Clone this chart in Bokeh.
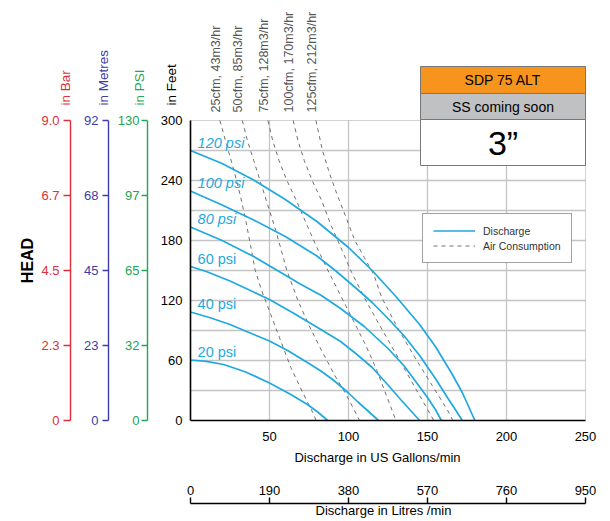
from bokeh.plotting import figure
from bokeh.models import (Range1d, LinearAxis, FixedTicker, Label, BoxAnnotation,
                          Legend, LegendItem, ColumnDataSource, Grid)
from bokeh.embed import file_html
from bokeh.resources import INLINE
from bokeh.core.properties import value

FONT = "Liberation Sans"
BLUE = "#1ea9e1"
AIR_GREY = "#707070"
RED = "#dd2e3a"
INDIGO = "#3d3da8"
GREEN = "#21a653"

# ---- discharge curves: flow (US gpm) vs head (ft) at each air pressure ----
psi_names = ["20 psi", "40 psi", "60 psi", "80 psi", "100 psi", "120 psi"]
psi_italic = [False, False, False, True, True, True]

flow_20 = [0, 10, 21, 35, 50, 63.5, 74, 80.5, 86.8]
head_20 = [60.5, 59.2, 56, 48.5, 37.5, 26, 16, 8.5, 0]

flow_40 = [0, 12, 25, 37, 50, 62, 74, 82, 90, 100, 106, 112, 119]
head_40 = [108.5, 103, 96, 88, 79.5, 69.5, 58, 50, 41, 27.5, 18.5, 10, 0]

flow_60 = [0, 10, 25, 50, 65, 82, 95, 105, 115, 125, 133, 139, 145]
head_60 = [154, 149, 139.5, 121, 107.5, 91.5, 79, 66.5, 53, 35.5, 21, 10.5, 0]

flow_80 = [0, 20, 40, 55, 70, 82.3, 95, 110, 125, 135, 143, 150, 155, 158.8]
head_80 = [193.5, 180, 164, 150, 136, 125.5, 112, 94, 72, 55, 38, 23, 11, 0]

flow_100 = [0, 20, 40, 60, 80, 92, 105, 115, 125, 135, 145, 155, 163, 168, 172]
head_100 = [229.5, 215.5, 200.5, 184, 164.5, 149.5, 132, 118, 102, 85, 65, 42, 22, 10, 0]

flow_120 = [0, 20, 40, 60, 80, 100, 115, 130, 145, 155, 165, 172, 176, 180]
head_120 = [270, 257, 240.5, 221, 199, 173, 150, 124, 96, 74, 48, 28, 14, 0]

discharge_flows = [flow_20, flow_40, flow_60, flow_80, flow_100, flow_120]
discharge_heads = [head_20, head_40, head_60, head_80, head_100, head_120]

# ---- air consumption lines ----
air_names = ["25cfm, 43m3/hr", "50cfm, 85m3/hr", "75cfm, 128m3/hr",
             "100cfm, 170m3/hr", "125cfm, 212m3/hr"]

air_flow_25 = [18.6, 23, 27.5, 31.5, 35, 38, 41, 45, 50.8, 57, 63.5, 71, 78, 79.5]
air_head_25 = [300, 275, 250, 225, 200, 175, 150, 130, 106, 80, 53, 28, 6, 0]

air_flow_50 = [32.8, 36, 40, 44, 49, 54, 61, 68, 75, 82, 91, 98.5, 107]
air_head_50 = [300, 280, 260, 240, 215, 190, 150, 120, 95, 73, 46, 26, 0]

air_flow_75 = [49, 52, 56, 61, 67, 73, 80, 87, 95, 103, 111, 118, 124, 130]
air_head_75 = [300, 280, 260, 240, 220, 198, 173, 150, 125, 100, 75, 50, 25, 0]

air_flow_100 = [65, 68, 72, 77, 83, 89, 96, 102, 110, 118, 127, 136, 145, 154]
air_head_100 = [300, 280, 260, 240, 220, 195, 170, 148, 123, 100, 75, 50, 25, 0]

air_flow_125 = [79.4, 83.5, 88, 93, 98, 104, 110, 116, 121, 131, 142, 153, 163, 166]
air_head_125 = [300, 270, 247, 225, 205, 180, 163, 146, 123, 93, 63, 35, 9.5, 0]

air_flows = [air_flow_25, air_flow_50, air_flow_75, air_flow_100, air_flow_125]
air_heads = [air_head_25, air_head_50, air_head_75, air_head_100, air_head_125]

# ---- scales and tick labels ----
feet_ticks = [0, 60, 120, 180, 240, 300]
feet_grid = [30, 60, 90, 120, 150, 180, 210, 240, 270]
gpm_grid = [50, 100, 150, 200]
gpm_ticks = [50, 100, 150, 200, 250]
litre_ticks = [0, 190, 380, 570, 760, 950]
bar_labels = ["0", "2.3", "4.5", "6.7", "9.0"]
metre_labels = ["0", "23", "45", "68", "92"]
psi_labels = ["0", "32", "65", "97", "130"]
GPM_MAX, FEET_MAX = 250, 300
bar_max, metre_max, psi_max = 9.0, 92.0, 130.0
LITRES_PER_GPM = 3.8

# ---- page geometry (pixels) ----
W, H = 610, 521
AREA_L, AREA_R, AREA_T, AREA_B = 190, 585, 120, 420
px_per_gpm = (AREA_R - AREA_L) / GPM_MAX
px_per_ft = (AREA_B - AREA_T) / FEET_MAX

def gx(px):
    """canvas x pixel -> gallons/min"""
    return (px - AREA_L) / px_per_gpm

def fy(py):
    """canvas y pixel -> feet of head"""
    return (AREA_B - py) / px_per_ft

x_lo, x_hi = gx(0), gx(W)
y_lo, y_hi = fy(H), fy(0)

p = figure(width=W, height=H, x_range=Range1d(x_lo, x_hi), y_range=Range1d(y_lo, y_hi),
           x_axis_type=None, y_axis_type=None,
           output_backend="svg", toolbar_location=None,
           min_border=0, min_border_left=0, min_border_right=0,
           min_border_top=0, min_border_bottom=0)
p.background_fill_color = "white"
p.border_fill_color = "white"
p.outline_line_color = None

p.extra_y_ranges = {
    "psi": Range1d(y_lo * psi_max / FEET_MAX, y_hi * psi_max / FEET_MAX),
    "metres": Range1d(y_lo * metre_max / FEET_MAX, y_hi * metre_max / FEET_MAX),
    "bar": Range1d(y_lo * bar_max / FEET_MAX, y_hi * bar_max / FEET_MAX),
}
p.extra_x_ranges = {"litres": Range1d(x_lo * LITRES_PER_GPM, x_hi * LITRES_PER_GPM)}

# grid limited to the chart area
p.add_layout(Grid(dimension=0, ticker=FixedTicker(ticks=gpm_grid), cross_bounds=(0, FEET_MAX),
                  grid_line_color="#c4c4c4", grid_line_width=1.3))
p.add_layout(Grid(dimension=1, ticker=FixedTicker(ticks=feet_grid), cross_bounds=(0, GPM_MAX),
                  grid_line_color="#c4c4c4", grid_line_width=1.3))

# chart area border
p.add_layout(BoxAnnotation(left=0, right=GPM_MAX, bottom=0, top=FEET_MAX, fill_alpha=0,
                           line_color="#6a6a6a", line_width=1, level="underlay"))

def style_axis(ax, color, tick_out, standoff, width=1.4):
    ax.major_label_text_font = FONT
    ax.major_label_text_font_size = "13px"
    ax.major_label_text_color = color
    ax.axis_line_color = color
    ax.axis_line_width = width
    ax.major_tick_line_color = color
    ax.major_tick_line_width = width
    ax.minor_tick_line_color = None
    ax.major_tick_out = tick_out
    ax.major_tick_in = 0
    ax.major_label_standoff = standoff

# head in feet, on the chart's left edge
feet_axis = LinearAxis(fixed_location=0, bounds=(0, FEET_MAX), ticker=FixedTicker(ticks=feet_ticks))
style_axis(feet_axis, "black", 0, 8, width=1.6)
p.add_layout(feet_axis, "left")

# equivalent head scales
def side_axis(name, labels, vmax, color, line_px, tick_out, standoff):
    ticks = [vmax * i / 4 for i in range(5)]
    ax = LinearAxis(y_range_name=name, fixed_location=gx(line_px), bounds=(0, vmax),
                    ticker=FixedTicker(ticks=ticks),
                    major_label_overrides={t: s for t, s in zip(ticks, labels)})
    style_axis(ax, color, tick_out, standoff)
    p.add_layout(ax, "left")

side_axis("psi", psi_labels, psi_max, GREEN, 147, 6, 2)
side_axis("metres", metre_labels, metre_max, INDIGO, 108, 6, 4)
side_axis("bar", bar_labels, bar_max, RED, 70, 7, 4)

# flow in US gallons/min along the bottom edge
gpm_axis = LinearAxis(fixed_location=0, bounds=(0, GPM_MAX), ticker=FixedTicker(ticks=gpm_ticks))
style_axis(gpm_axis, "black", 0, 11, width=1.6)
p.add_layout(gpm_axis, "below")

# flow in litres/min, scale line with its labels above
litre_axis = LinearAxis(x_range_name="litres", fixed_location=fy(503),
                        bounds=(0, GPM_MAX * LITRES_PER_GPM), ticker=FixedTicker(ticks=litre_ticks))
style_axis(litre_axis, "black", 6, 3)
p.add_layout(litre_axis, "above")

# axis titles
def title(x, y, text, color="black", size="13px", angle=0.0, align="center", style="normal"):
    p.add_layout(Label(x=x, y=y, text=text, angle=angle, text_font=FONT, text_font_size=size,
                       text_color=color, text_font_style=style,
                       text_align=align, text_baseline="middle"))

title(gx(377), fy(456.5), "Discharge in US Gallons/min")
title(gx(383), fy(509.8), "Discharge in Litres /min")
title(gx(27), fy(260), "HEAD", size="16px", angle=1.5708, style="bold")
for px, txt, col in [(65, "in Bar", RED), (103, "in Metres", INDIGO),
                     (139, "in PSI", GREEN), (171, "in Feet", "black")]:
    title(gx(px), fy(105), txt, color=col, size="13.5px", angle=1.5708, align="left")

# air consumption lines
air_renderers = []
for fl, hd in zip(air_flows, air_heads):
    r = p.line(fl, hd, line_color=AIR_GREY, line_width=1, line_dash="4 4")
    air_renderers.append(r)

# discharge curves
dis_renderers = []
for fl, hd in zip(discharge_flows, discharge_heads):
    r = p.line(fl, hd, line_color=BLUE, line_width=1.7)
    dis_renderers.append(r)

# pressure labels just above the start of each curve
lab_src = ColumnDataSource(dict(
    x=[4.5] * len(psi_names),
    y=[h[0] + 8 for h in discharge_heads],
    text=psi_names,
    style=["italic" if it else "normal" for it in psi_italic],
))
p.text(x="x", y="y", text="text", source=lab_src, text_color=BLUE,
       text_font=value(FONT), text_font_size="14.5px", text_font_style="style",
       text_baseline="middle", text_align="left")

# air consumption labels above the top of each dashed line
for fl, name in zip(air_flows, air_names):
    title(fl[0] - 2.5, fy(112), name, color="#555555", size="12.5px", angle=1.5708, align="left")

# model box
box_left, box_right = gx(420), GPM_MAX
cells = [(fy(66), fy(93), "#f7941d", "SDP 75 ALT", "14px"),
         (fy(93), fy(119), "#c0c1c3", "SS coming soon", "14px"),
         (fy(119), fy(165), "white", "3\u201d", "34px")]
for top, bottom, fill, txt, fs in cells:
    p.add_layout(BoxAnnotation(left=box_left, right=box_right, top=top, bottom=bottom,
                               fill_color=fill, fill_alpha=1, line_color="#777777",
                               line_width=1, line_alpha=1))
    title((box_left + box_right) / 2, (top + bottom) / 2, txt, size=fs)

legend = Legend(items=[LegendItem(label="Discharge", renderers=[dis_renderers[0]]),
                       LegendItem(label="Air Consumption", renderers=[air_renderers[0]])],
                location=(422, H - 263), orientation="vertical")
legend.label_text_font = FONT
legend.label_text_font_size = "10.5px"
legend.label_text_color = "#333333"
legend.glyph_width = 42
legend.glyph_height = 13
legend.label_height = 13
legend.label_standoff = 8
legend.spacing = 2
legend.padding = 10
legend.margin = 0
legend.border_line_color = "#444444"
legend.border_line_width = 1
legend.background_fill_color = "white"
legend.background_fill_alpha = 1
p.add_layout(legend, "center")

with open("out.html", "w", encoding="utf-8") as f:
    f.write(file_html(p, INLINE))
